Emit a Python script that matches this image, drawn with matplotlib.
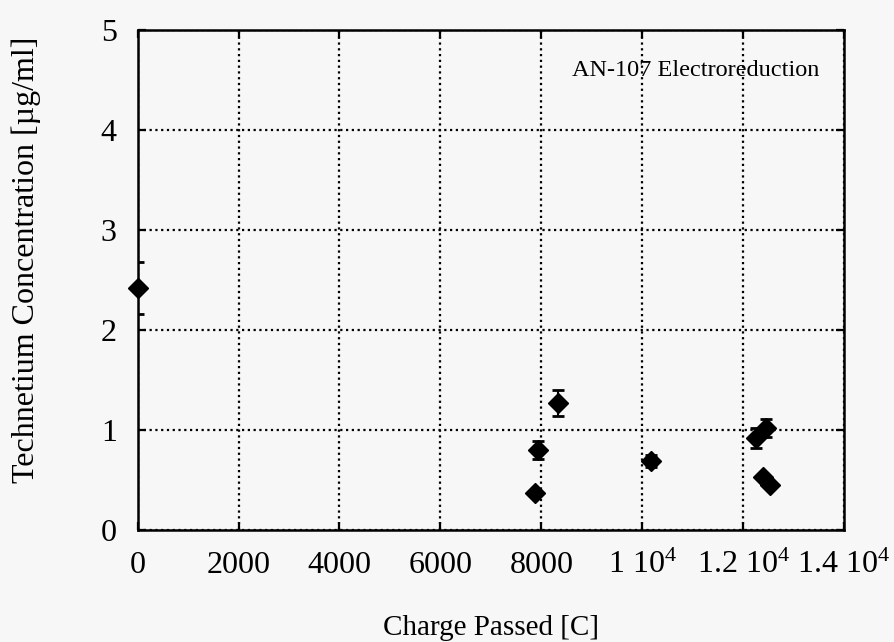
import matplotlib
matplotlib.use("Agg")
from matplotlib import pyplot as plt
from matplotlib.ticker import FixedLocator, FixedFormatter

plt.rcParams['font.family'] = ['Liberation Serif', 'DejaVu Serif']
plt.rcParams['mathtext.fontset'] = 'custom'
plt.rcParams['mathtext.rm'] = 'Liberation Serif'
plt.rcParams['mathtext.it'] = 'Liberation Serif:italic'

# Tc concentration vs. charge passed during electroreduction
charge = [0, 7880, 7940, 8330, 10180, 12250, 12450, 12400, 12540]
conc = [2.42, 0.37, 0.80, 1.27, 0.69, 0.92, 1.02, 0.53, 0.45]
conc_err = [0.26, 0.03, 0.09, 0.13, 0.06, 0.10, 0.09, 0.03, 0.03]

x_ticks = [0, 2000, 4000, 6000, 8000, 10000, 12000, 14000]
x_labels = ["0", "2000", "4000", "6000", "8000",
            r"1 10$^{4}$", r"1.2 10$^{4}$", r"1.4 10$^{4}$"]
y_ticks = [0, 1, 2, 3, 4, 5]

fig = plt.figure(figsize=(8.94, 6.42), dpi=100, facecolor='#f7f7f7')
ax = fig.add_axes([0.154, 0.174, 0.79, 0.779])
ax.set_facecolor('#f7f7f7')

# error bars get clipped at the axes, the markers do not
ax.errorbar(charge, conc, yerr=conc_err, fmt='none', ecolor='black',
            elinewidth=1.5, capsize=4.5, capthick=2, zorder=3)
ax.plot(charge, conc, linestyle='none', marker='D', markersize=10,
        color='black', clip_on=False, zorder=4)

ax.set_xlim(0, 14000)
ax.set_ylim(0, 5)
ax.xaxis.set_major_locator(FixedLocator(x_ticks))
ax.xaxis.set_major_formatter(FixedFormatter(x_labels))
ax.set_yticks(y_ticks)

ax.grid(True, color='black', linestyle=(0, (1, 1.6)), linewidth=1.6)
ax.set_axisbelow(True)

for spine in ax.spines.values():
    spine.set_linewidth(1.8)

ax.tick_params(direction='in', length=6, width=1.6, top=True, right=True,
               labelsize=23, pad=15)

ax.text(0.965, 0.92, "AN-107 Electroreduction", transform=ax.transAxes,
        ha='right', va='center', fontsize=17.5)

ax.set_xlabel("Charge Passed [C]", fontsize=21, labelpad=25)
ax.set_ylabel("Technetium Concentration [µg/ml]", fontsize=23)
ax.yaxis.set_label_coords(-0.137, 0.54)

fig.savefig("out.png", dpi=100, facecolor=fig.get_facecolor())
